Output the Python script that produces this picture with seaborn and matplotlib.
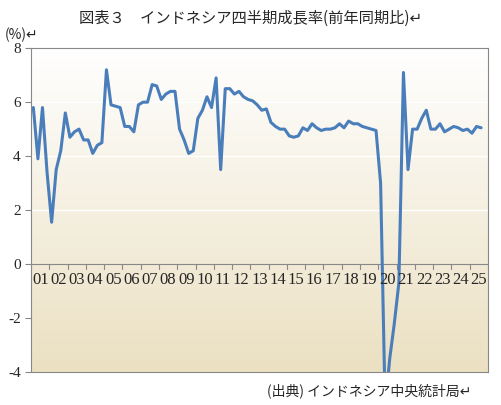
import numpy as np
import matplotlib
matplotlib.use('Agg')
import matplotlib.pyplot as plt
import seaborn as sns
import pandas as pd

years = [f'{y:02d}' for y in range(1, 26)]
growth = [
    5.8, 3.9, 5.8, 3.4,
    1.55, 3.5, 4.2, 5.6,
    4.7, 4.9, 5.0, 4.6,
    4.6, 4.1, 4.4, 4.5,
    7.2, 5.9, 5.85, 5.8,
    5.1, 5.1, 4.9, 5.9,
    6.0, 6.0, 6.65, 6.6,
    6.1, 6.3, 6.4, 6.4,
    5.0, 4.6, 4.1, 4.2,
    5.4, 5.7, 6.2, 5.8,
    6.9, 3.5, 6.5, 6.5,
    6.3, 6.4, 6.2, 6.1,
    6.05, 5.9, 5.7, 5.75,
    5.25, 5.1, 5.0, 5.0,
    4.75, 4.7, 4.75, 5.05,
    4.95, 5.2, 5.05, 4.95,
    5.0, 5.0, 5.05, 5.2,
    5.05, 5.3, 5.2, 5.2,
    5.1, 5.05, 5.0, 4.95,
    3.0, -5.3, -3.5, -2.2,
    -0.7, 7.1, 3.5, 5.0,
    5.0, 5.4, 5.7, 5.0,
    5.0, 5.2, 4.9, 5.0,
    5.1, 5.05, 4.95, 5.0,
    4.85, 5.1, 5.05,
]

df = pd.DataFrame({'q': np.arange(len(growth)) + 0.5, 'growth': growth})

sns.set_style('white')
plt.rcParams['font.family'] = ['Noto Sans CJK JP', 'DejaVu Sans']

fig = plt.figure(figsize=(5.01, 4.05), dpi=100)
ax = fig.add_axes([0.062, 0.0815, 0.912, 0.7995])

# gradient background: white at top, tan at bottom
grad = np.linspace(0, 1, 256).reshape(-1, 1)
cmap = matplotlib.colors.LinearSegmentedColormap.from_list('bg', ['#ffffff', '#ebe0c2'])
ax.imshow(grad, extent=[0, 100, -4, 8], aspect='auto', cmap=cmap, zorder=0)

for yv in [2, 4, 6]:
    ax.axhline(yv, color='white', lw=1, zorder=1)

sns.lineplot(data=df, x='q', y='growth', ax=ax, color='#4a7ebb', lw=2.2, zorder=3)

ax.set_xlim(0, 100)
ax.set_ylim(-4, 8)
ax.set_yticks([-4, -2, 0, 2, 4, 6, 8])
ax.set_yticklabels(['-4', '-2', '0', '2', '4', '6', '8'], fontsize=11, family='Liberation Serif')
ax.set_xticks([])
ax.set_xlabel('')
ax.set_ylabel('')
for s in ax.spines.values():
    s.set_color('#888888')
    s.set_linewidth(0.8)
ax.tick_params(axis='y', length=4, color='#888888', direction='out', left=True)

ax.axhline(0, color='#888888', lw=0.8, zorder=2)
for i in range(26):
    ax.plot([i * 4, i * 4], [0, -0.2], color='#888888', lw=0.8, zorder=2)
for i, lab in enumerate(years):
    ax.text(i * 4 + 2, -0.3, lab, ha='center', va='top', fontsize=12, family='Liberation Serif')

fig.text(0.5, 0.955, '図表３　インドネシア四半期成長率(前年同期比)↵', ha='center', va='center', fontsize=11,
         family=['Noto Sans CJK JP', 'DejaVu Sans'])
fig.text(0.01, 0.915, '(%)↵', ha='left', va='center', fontsize=10, family=['Noto Sans CJK JP', 'DejaVu Sans'])
fig.text(0.94, 0.035, '(出典) インドネシア中央統計局↵', ha='right', va='center', fontsize=10,
         family=['Noto Sans CJK JP', 'DejaVu Sans'])

fig.savefig('out.png', dpi=100)
